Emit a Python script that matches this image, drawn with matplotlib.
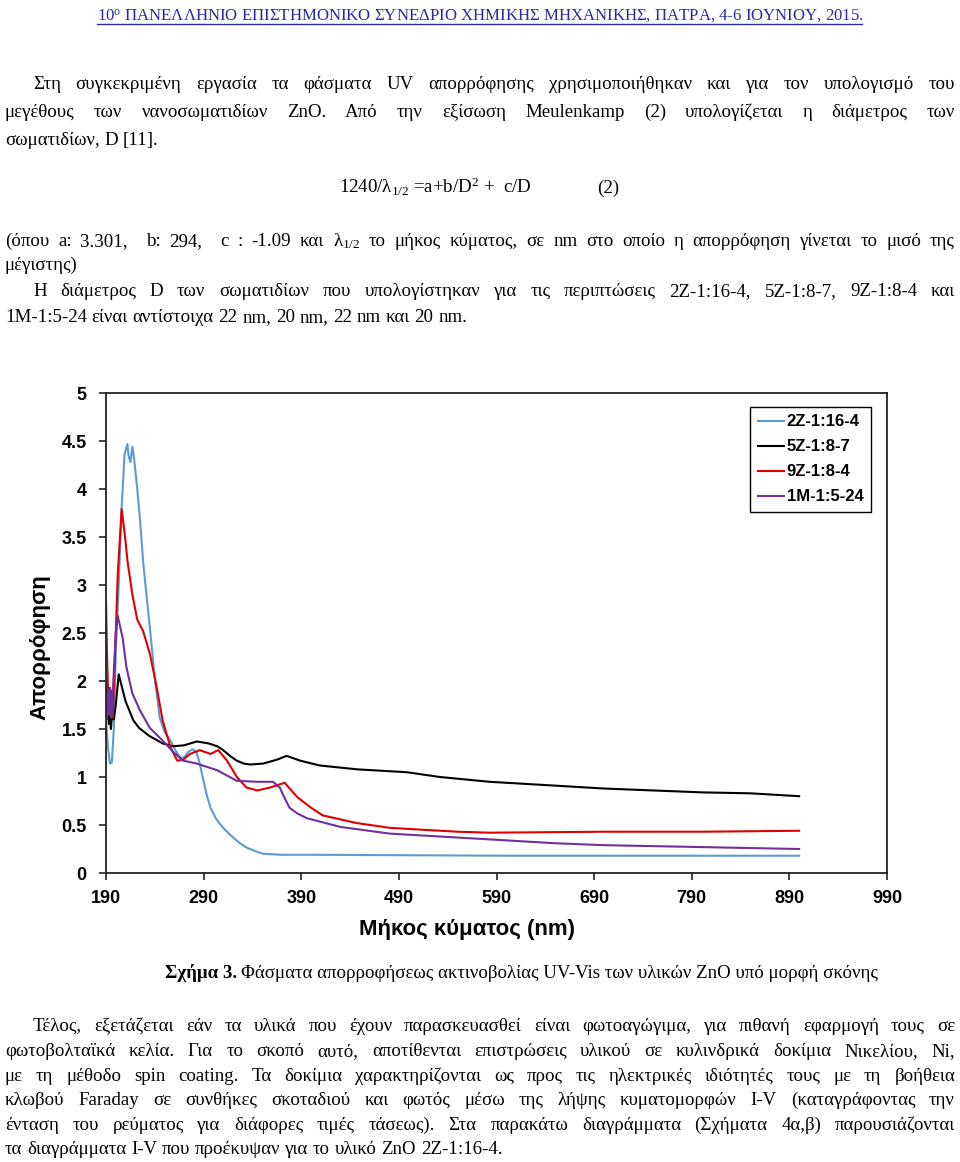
import matplotlib
matplotlib.use('Agg')
import matplotlib.pyplot as plt

plt.rcParams['mathtext.fontset'] = 'custom'
plt.rcParams['mathtext.rm'] = 'Liberation Serif'
plt.rcParams['mathtext.it'] = 'Liberation Serif'
plt.rcParams['mathtext.bf'] = 'Liberation Serif:bold'

# spectra (wavelength nm, absorbance)
wl_2z = [190, 192, 194, 196, 198, 200, 203, 206, 209, 212, 213, 215, 217, 219, 222, 225, 228, 230,
         235, 240, 245, 250, 256, 261, 266, 270, 274, 279, 283, 286, 289, 293, 297, 303, 310, 318, 327,
         335, 345, 351, 370, 400, 500, 600, 700, 800, 900]
abs_2z = [1.59, 1.31, 1.14, 1.15, 1.5, 2.3, 3.0, 3.8, 4.36, 4.47, 4.35, 4.28, 4.44, 4.3, 4.0, 3.66,
          3.25, 3.04, 2.55, 2.03, 1.62, 1.47, 1.38, 1.28, 1.2, 1.2, 1.26, 1.29, 1.25, 1.14, 1.0, 0.82,
          0.68, 0.56, 0.47, 0.39, 0.31, 0.26, 0.22, 0.2, 0.19, 0.19, 0.185, 0.18, 0.18, 0.18, 0.18]

wl_5z = [190, 192, 193, 194, 195, 196, 198, 200, 203, 206, 210, 218, 224, 234, 248, 259, 270, 283,
         295, 304, 310, 317, 324, 331, 338, 351, 365, 375, 389, 409, 447, 498, 532, 583, 650, 700,
         750, 800, 850, 900]
abs_5z = [1.62, 1.75, 1.55, 1.68, 1.5, 1.62, 1.6, 1.75, 2.07, 1.95, 1.79, 1.59, 1.51, 1.43, 1.35,
          1.32, 1.33, 1.37, 1.35, 1.32, 1.28, 1.22, 1.17, 1.14, 1.13, 1.14, 1.18, 1.22, 1.17, 1.12,
          1.08, 1.05, 1.0, 0.95, 0.91, 0.88, 0.86, 0.84, 0.83, 0.8]

wl_9z = [190, 191, 192, 193, 194, 195, 196, 197, 199, 202, 206, 209, 212, 217, 222, 228, 235, 242,
         248, 256, 263, 269, 276, 286, 297, 305, 314, 324, 334, 345, 358, 373, 386, 400, 412, 447,
         481, 550, 583, 700, 800, 900]
abs_9z = [2.83, 2.3, 1.93, 1.75, 1.9, 1.65, 1.9, 1.62, 2.2, 3.1, 3.79, 3.55, 3.25, 2.9, 2.64, 2.52,
          2.28, 1.93, 1.59, 1.31, 1.17, 1.18, 1.24, 1.28, 1.24, 1.28, 1.17, 1.0, 0.89, 0.86, 0.89,
          0.94, 0.79, 0.68, 0.6, 0.52, 0.47, 0.43, 0.42, 0.43, 0.43, 0.44]

wl_1m = [190, 191, 192, 193, 194, 195, 196, 198, 200, 202, 207, 211, 217, 225, 235, 248, 259, 269,
         283, 304, 324, 345, 361, 368, 373, 378, 386, 396, 430, 481, 532, 583, 650, 700, 800, 900]
abs_1m = [1.93, 1.6, 1.9, 1.65, 1.93, 1.62, 1.66, 2.1, 2.5, 2.68, 2.45, 2.14, 1.87, 1.69, 1.51,
          1.38, 1.26, 1.17, 1.14, 1.07, 0.96, 0.95, 0.95, 0.89, 0.78, 0.68, 0.62, 0.57, 0.48, 0.41,
          0.38, 0.35, 0.31, 0.29, 0.27, 0.25]

series_names = ['2Z-1:16-4', '5Z-1:8-7', '9Z-1:8-4', '1M-1:5-24']
series_colors = ['#5B9BD5', '#000000', '#E00000', '#7030A0']
x_ticks = [190, 290, 390, 490, 590, 690, 790, 890, 990]
y_ticks = [0, 0.5, 1, 1.5, 2, 2.5, 3, 3.5, 4, 4.5, 5]
y_tick_labels = ['0', '0.5', '1', '1.5', '2', '2.5', '3', '3.5', '4', '4.5', '5']

W, H = 960, 1162
SERIF = 'Liberation Serif'
SANS = 'Liberation Sans'
BODY = 13.6

fig = plt.figure(figsize=(W / 100, H / 100), dpi=100)
renderer = fig.canvas.get_renderer()


def put_line(x0, x1, y, line, justify=True, size=BODY, color='black'):
    # y is the baseline in pixels from the top
    words = line.split(' ')
    objs = [fig.text(x0 / W, 1 - y / H, w, fontsize=size, family=SERIF, color=color,
                     va='baseline', ha='left') for w in words]
    widths = [o.get_window_extent(renderer).width for o in objs]
    if justify and len(words) > 1:
        gap = (x1 - x0 - sum(widths)) / (len(words) - 1)
    else:
        gap = size * 0.25 * 100 / 72
    x = x0
    for o, w in zip(objs, widths):
        o.set_x(x / W)
        x += w + gap


# header
hdr = fig.text(97 / W, 1 - 20 / H, r'10$^{\mathrm{o}}$ ΠΑΝΕΛΛΗΝΙΟ ΕΠΙΣΤΗΜΟΝΙΚΟ ΣΥΝΕΔΡΙΟ ΧΗΜΙΚΗΣ ΜΗΧΑΝΙΚΗΣ, ΠΑΤΡΑ, 4-6 ΙΟΥΝΙΟΥ, 2015.',
               fontsize=13, family=SERIF, color='#2A2AA0', va='baseline')
hw = hdr.get_window_extent(renderer).width
hdr.set_fontsize(13 * 765 / hw)
fig.add_artist(plt.Line2D([97 / W, 862 / W], [1 - 24 / H, 1 - 24 / H], color='#2A2AA0', lw=1))

# first paragraph
put_line(33, 955, 89, 'Στη συγκεκριμένη εργασία τα φάσματα UV απορρόφησης χρησιμοποιήθηκαν και για τον υπολογισμό του')
put_line(5, 955, 117, 'μεγέθους των νανοσωματιδίων ZnO. Από την εξίσωση Meulenkamp (2) υπολογίζεται η διάμετρος των')
put_line(5, 955, 145, 'σωματιδίων, D [11].', justify=False)

fig.text(339 / W, 1 - 193 / H, r'1240/$\lambda_{1/2}$ =a+b/D$^{2}$ +  c/D', fontsize=BODY,
         family=SERIF, va='baseline')
fig.text(597 / W, 1 - 193 / H, '(2)', fontsize=BODY, family=SERIF, va='baseline')

put_line(5, 955, 246, r'(όπου a: 3.301,  b: 294,  c : -1.09 και $\lambda_{1/2}$ το μήκος κύματος, σε nm στο οποίο η απορρόφηση γίνεται το μισό της')
put_line(5, 955, 270, 'μέγιστης)', justify=False)
put_line(33, 955, 296, 'Η διάμετρος D των σωματιδίων που υπολογίστηκαν για τις περιπτώσεις 2Z-1:16-4, 5Z-1:8-7, 9Z-1:8-4 και')
put_line(5, 955, 322, '1M-1:5-24 είναι αντίστοιχα 22 nm, 20 nm, 22 nm και 20 nm.', justify=False)

# chart
ax = fig.add_axes([106 / W, 1 - 873 / H, 781 / W, 480 / H])
ax.plot(wl_2z, abs_2z, color=series_colors[0], lw=1.5, label=series_names[0])
ax.plot(wl_5z, abs_5z, color=series_colors[1], lw=1.5, label=series_names[1])
ax.plot(wl_9z, abs_9z, color=series_colors[2], lw=1.5, label=series_names[2])
ax.plot(wl_1m, abs_1m, color=series_colors[3], lw=1.5, label=series_names[3])
ax.set_xlim(190, 990)
ax.set_ylim(0, 5)
ax.set_xticks(x_ticks)
ax.set_xticklabels([str(t) for t in x_ticks], fontsize=13, fontweight='bold', family=SANS)
ax.set_yticks(y_ticks)
ax.set_yticklabels(y_tick_labels, fontsize=13, fontweight='bold', family=SANS)
ax.tick_params(direction='out', length=5, width=1.2, colors='#222222', labelcolor='black')
ax.tick_params(axis='x', pad=7)
ax.tick_params(axis='y', pad=9)
for s in ax.spines.values():
    s.set_linewidth(1.3)
    s.set_color('#222222')

leg = ax.legend(loc='upper left', bbox_to_anchor=(750 / W, 1 - 407 / H), bbox_transform=fig.transFigure,
                borderaxespad=0, fancybox=False, edgecolor='black', framealpha=1,
                prop={'family': SANS, 'weight': 'bold', 'size': 12}, handlelength=1.6,
                handletextpad=0.15, labelspacing=0.6, borderpad=0.45)
leg.get_frame().set_linewidth(1.0)

fig.text(467 / W, 1 - 930 / H, 'Μήκος κύματος (nm)', fontsize=16, fontweight='bold', family=SANS,
         ha='center', va='center')
fig.text(40 / W, 1 - 647 / H, 'Απορρόφηση', fontsize=16, fontweight='bold', family=SANS,
         ha='center', va='center', rotation=90)

# caption
cap = fig.text(165 / W, 1 - 978 / H, 'Σχήμα 3.', fontsize=BODY, fontweight='bold', family=SERIF,
               va='baseline')
cw = cap.get_window_extent(renderer).width
fig.text((165 + cw + 4) / W, 1 - 978 / H, 'Φάσματα απορροφήσεως ακτινοβολίας UV-Vis των υλικών ZnO υπό μορφή σκόνης',
         fontsize=BODY, family=SERIF, va='baseline')

# last paragraph
put_line(33, 955, 1031, 'Τέλος, εξετάζεται εάν τα υλικά που έχουν παρασκευασθεί είναι φωτοαγώγιμα, για πιθανή εφαρμογή τους σε')
put_line(5, 955, 1056, 'φωτοβολταϊκά κελία. Για το σκοπό αυτό, αποτίθενται επιστρώσεις υλικού σε κυλινδρικά δοκίμια Νικελίου, Ni,')
put_line(5, 955, 1081, 'με τη μέθοδο spin coating. Τα δοκίμια χαρακτηρίζονται ως προς τις ηλεκτρικές ιδιότητές τους με τη βοήθεια')
put_line(5, 955, 1105, 'κλωβού Faraday σε συνθήκες σκοταδιού και φωτός μέσω της λήψης κυματομορφών I-V (καταγράφοντας την')
put_line(5, 955, 1130, 'ένταση του ρεύματος για διάφορες τιμές τάσεως). Στα παρακάτω διαγράμματα (Σχήματα 4α,β) παρουσιάζονται')
put_line(5, 955, 1154, 'τα διαγράμματα I-V που προέκυψαν για το υλικό ZnO 2Z-1:16-4.', justify=False)

fig.savefig('out.png', dpi=100)
